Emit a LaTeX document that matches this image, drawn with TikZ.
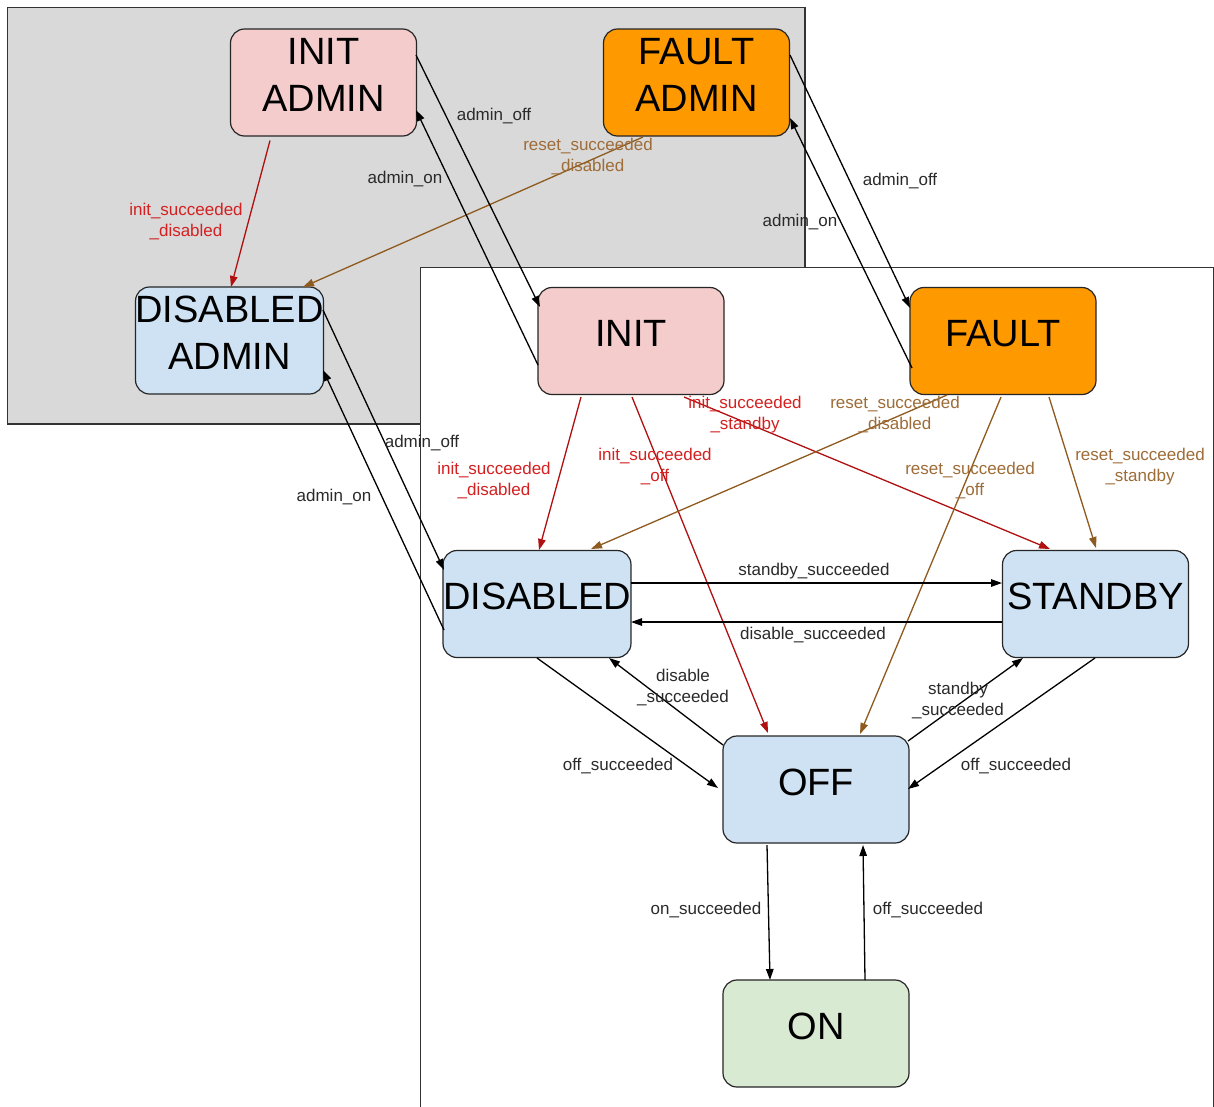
\documentclass[tikz,border=0pt]{standalone}
\usepackage{fontspec}
\setmainfont{Liberation Sans}
\usetikzlibrary{arrows.meta,calc}
\definecolor{bggray}{HTML}{D9D9D9}
\definecolor{initpink}{HTML}{F4CCCC}
\definecolor{faultorange}{HTML}{FF9900}
\definecolor{stateblue}{HTML}{CFE2F3}
\definecolor{ongreen}{HTML}{D9EAD3}
\definecolor{redline}{HTML}{B01010}
\definecolor{redtext}{HTML}{D42020}
\definecolor{brownline}{HTML}{8E5A1E}
\definecolor{browntext}{HTML}{9E6C38}
\definecolor{labgray}{HTML}{2A2A2A}
\begin{document}
\begin{tikzpicture}[x=1pt,y=-1pt,
  state/.style={draw=black!85, line width=1.2pt, rounded corners=14pt,
    minimum width=186pt, minimum height=107pt, inner sep=0pt, align=center,
    text depth=15pt, font=\fontsize{38}{47}\selectfont},
  lbl/.style={font=\fontsize{17}{21}\selectfont, align=center, text=labgray, inner sep=0pt},
  redlbl/.style={lbl, text=redtext},
  brownlbl/.style={lbl, text=browntext},
  tr/.style={draw=black, line width=1.3pt, -{Triangle[length=11pt,width=7.5pt]}},
  redtr/.style={tr, draw=redline, -{Triangle[length=11pt,width=7.5pt,fill=redline]}},
  browntr/.style={tr, draw=brownline, -{Triangle[length=11pt,width=7.5pt,fill=brownline]}}]
\useasboundingbox (0,0) rectangle (1214,1106);
% containers
\draw[fill=bggray, draw=black!80, line width=1.2pt] (7.5,7.5) rectangle (805,424);
\draw[fill=white, draw=black!80, line width=1.2pt] (420.5,267.5) rectangle (1213.5,1110);
% states
\node[state, fill=initpink]    (IA) at (323.5,82.5)  {INIT\\ADMIN};
\node[state, fill=faultorange] (FA) at (696.5,82.5)  {FAULT\\ADMIN};
\node[state, fill=stateblue]   (DA) at (229.5,340.5) {DISABLED\\ADMIN};
\node[state, fill=initpink]    (I)  at (631,341)     {INIT};
\node[state, fill=faultorange] (F)  at (1003,341)    {FAULT};
\node[state, fill=stateblue]   (D)  at (537,604)     {DISABLED};
\node[state, fill=stateblue]   (S)  at (1095.5,604)  {STANDBY};
\node[state, fill=stateblue]   (O)  at (816,789.5)   {OFF};
\node[state, fill=ongreen]     (N)  at (816,1033.5)  {ON};
% admin transitions
\draw[redtr]   ($(IA)+(-53.5,58)$) -- ($(DA)+(1.5,-53.5)$);
\draw[browntr] ($(FA)+(-53.5,54.5)$) -- ($(DA)+(73.5,-53.5)$);
\draw[tr] ($(IA)+(92.5,-27.5)$) -- ($(I)+(-91,-34)$);
\draw[tr] ($(I)+(-93,24)$) -- ($(IA)+(92.5,27.5)$);
\draw[tr] ($(FA)+(93.5,-27.5)$) -- ($(F)+(-93,-33)$);
\draw[tr] ($(F)+(-91,27)$) -- ($(FA)+(93.5,35.5)$);
\draw[tr] ($(DA)+(93.5,-30.5)$) -- ($(D)+(-93,-34)$);
\draw[tr] ($(D)+(-93,26)$) -- ($(DA)+(93.5,29.5)$);
% init / fault transitions
\draw[redtr] ($(I)+(-50,56)$) -- ($(D)+(2,-54)$);
\draw[redtr] ($(I)+(1,56)$) -- ($(O)+(-48,-56.5)$);
\draw[redtr] ($(I)+(53,56)$) -- ($(S)+(-45.5,-55)$);
\draw[browntr] ($(F)+(-56,54)$) -- ($(D)+(54,-55)$);
\draw[browntr] ($(F)+(-2,56)$) -- ($(O)+(44,-55.5)$);
\draw[browntr] ($(F)+(46,56)$) -- ($(S)+(0.5,-56)$);
% operational transitions
\draw[tr] ($(D)+(94,-21)$) -- ($(S)+(-93.5,-21)$);
\draw[tr] ($(S)+(-93.5,18)$) -- ($(D)+(94,18)$);
\draw[tr] ($(O)+(-93,-44.5)$) -- ($(D)+(72,54)$);
\draw[tr] ($(D)+(0,54)$) -- ($(O)+(-98,-1.5)$);
\draw[tr] ($(O)+(92,-48.5)$) -- ($(S)+(-72.5,54)$);
\draw[tr] ($(S)+(-0.5,54)$) -- ($(O)+(92,-0.5)$);
\draw[tr] ($(O)+(-49,55.5)$) -- ($(N)+(-46,-53.5)$);
\draw[tr] ($(N)+(49,-53.5)$) -- ($(O)+(47,55.5)$);
% labels
\node[redlbl]   (l1)  at (186,222)  {init\_succeeded\\\_disabled};
\node[brownlbl] (l2)  at (588,157)  {reset\_succeeded\\\_disabled};
\node[lbl]      (l3)  at (494,116)  {admin\_off};
\node[lbl]      (l4)  at (405,179)  {admin\_on};
\node[lbl]      (l5)  at (900,181)  {admin\_off};
\node[lbl]      (l6)  at (800,222)  {admin\_on};
\node[lbl]      (l7)  at (422,443)  {admin\_off};
\node[lbl]      (l8)  at (334,497)  {admin\_on};
\node[redlbl]   (l9)  at (494,481)  {init\_succeeded\\\_disabled};
\node[redlbl]   (l10) at (655,467)  {init\_succeeded\\\_off};
\node[redlbl]   (l11) at (745,415)  {init\_succeeded\\\_standby};
\node[brownlbl] (l12) at (895,415)  {reset\_succeeded\\\_disabled};
\node[brownlbl] (l13) at (970,481)  {reset\_succeeded\\\_off};
\node[brownlbl] (l14) at (1140,467) {reset\_succeeded\\\_standby};
\node[lbl]      (l15) at (814,571)  {standby\_succeeded};
\node[lbl]      (l16) at (813,635)  {disable\_succeeded};
\node[lbl]      (l17) at (683,688)  {disable\\\_succeeded};
\node[lbl]      (l18) at (618,766)  {off\_succeeded};
\node[lbl]      (l19) at (958,701)  {standby\\\_succeeded};
\node[lbl]      (l20) at (1016,766) {off\_succeeded};
\node[lbl]      (l21) at (706,910)  {on\_succeeded};
\node[lbl]      (l22) at (928,910)  {off\_succeeded};
\end{tikzpicture}
\end{document}
